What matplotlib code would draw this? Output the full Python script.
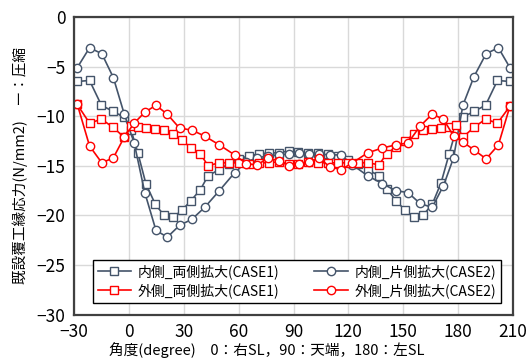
import matplotlib
matplotlib.use("Agg")
import matplotlib.pyplot as plt
from matplotlib import font_manager

# Angle positions of the evaluation points (degree): 0 = right SL, 90 = crown, 180 = left SL
angle_case1 = [-28.3, -21.5, -15.0, -8.8, -2.7, 1.2, 4.9, 9.3, 14.5, 19.3, 24.2, 28.9,
               34.0, 39.1, 43.3, 49.2, 54.5, 60.0, 65.5, 71.0, 76.5, 82.0, 87.3, 92.7,
               98.0, 103.5, 109.0, 114.5, 120.0, 125.5, 130.8, 136.7, 140.9, 146.0,
               151.1, 155.8, 160.7, 165.8, 170.7, 175.1, 178.8, 182.7, 188.8, 195.0,
               201.5, 208.3]
angle_case2 = [-28.2, -21.5, -14.8, -8.5, -2.5, 2.9, 8.7, 14.8, 21.0, 27.7, 34.4, 41.4,
               49.5, 57.8, 64.3, 70.3, 76.1, 81.9, 87.5, 92.8, 98.3, 104.0, 109.8, 116.0,
               122.2, 130.5, 138.6, 145.8, 152.6, 159.2, 165.8, 172.0, 177.5, 182.6,
               188.7, 195.3, 202.0, 208.3]

# Lining edge stress (N/mm2), negative = compression
inner_case1 = [-6.5, -6.4, -8.9, -9.5, -10.1, -11.4, -13.7, -16.8, -18.9, -20.0, -20.2, -19.5,
               -18.5, -17.4, -16.0, -15.4, -14.8, -14.3, -14.0, -13.8, -13.7, -13.7, -13.5, -13.6,
               -13.7, -13.7, -13.8, -14.0, -14.4, -14.8, -15.4, -16.0, -17.3, -18.5,
               -19.5, -20.2, -20.0, -18.9, -16.7, -13.8, -11.4, -10.1, -9.5, -8.9,
               -6.4, -6.5]
outer_case1 = [-8.8, -10.7, -10.3, -11.1, -12.1, -11.0, -11.1, -11.2, -11.3, -11.4, -11.8, -12.4,
               -13.2, -13.8, -15.0, -14.7, -14.7, -14.7, -14.8, -14.7, -14.7, -14.6, -14.8, -14.8,
               -14.6, -14.7, -14.7, -14.7, -14.7, -14.7, -14.7, -14.9, -13.8, -13.1,
               -12.5, -11.8, -11.4, -11.3, -11.2, -11.1, -10.9, -12.1, -11.1, -10.3,
               -10.7, -9.0]
inner_case2 = [-5.1, -3.1, -3.7, -6.1, -9.8, -12.7, -17.7, -21.5, -22.2, -21.0, -20.4, -19.2,
               -17.5, -15.7, -14.6, -14.2, -14.0, -13.9, -13.8, -13.7, -13.8, -13.8, -13.9, -13.9,
               -14.9, -16.0, -16.8, -17.5, -17.7, -18.8, -19.2, -17.0, -14.2, -8.9,
               -6.0, -3.7, -3.1, -5.1]
outer_case2 = [-8.8, -13.0, -14.7, -14.2, -12.1, -10.7, -9.6, -8.9, -9.8, -11.2, -11.4, -12.0,
               -12.9, -13.9, -14.8, -14.9, -14.2, -14.5, -15.0, -14.8, -14.6, -14.2, -15.1, -15.4,
               -14.7, -13.7, -13.2, -12.9, -12.7, -11.0, -9.8, -10.3, -12.0, -12.6,
               -13.4, -14.3, -12.9, -9.0]

labels = ["内側_両側拡大(CASE1)", "外側_両側拡大(CASE1)",
          "内側_片側拡大(CASE2)", "外側_片側拡大(CASE2)"]
x_ticks = [-30, 0, 30, 60, 90, 120, 150, 180, 210]
y_ticks = [0, -5, -10, -15, -20, -25, -30]

NAVY = "#44546A"
RED = "#FF0000"
JP = ["Noto Sans CJK JP", "DejaVu Sans"]

available = {f.name for f in font_manager.fontManager.ttflist}
TICK_FONT = "Liberation Sans Narrow" if "Liberation Sans Narrow" in available else "Noto Sans CJK JP"

plt.rcParams["font.family"] = JP
plt.rcParams["axes.unicode_minus"] = True

fig = plt.figure(figsize=(5.28, 3.60), dpi=100)
ax = fig.add_axes([74 / 528, 1 - 314.6 / 360, 439 / 528, 297.6 / 360])

common = dict(lw=1.2, markersize=6.0, markeredgewidth=1.0, markerfacecolor="white")
h_in1, = ax.plot(angle_case1, inner_case1, color=NAVY, marker="s", label=labels[0], **common)
h_in2, = ax.plot(angle_case2, inner_case2, color=NAVY, marker="o", label=labels[2], **common)
h_out1, = ax.plot(angle_case1, outer_case1, color=RED, marker="s", label=labels[1], **common)
h_out2, = ax.plot(angle_case2, outer_case2, color=RED, marker="o", label=labels[3], **common)

ax.set_xlim(-30, 210)
ax.set_ylim(-30, 0)
ax.set_xticks(x_ticks)
ax.set_yticks(y_ticks)
ax.set_xticklabels([f"{v}".replace("-", "\u2212") for v in x_ticks],
                   fontfamily=TICK_FONT, fontsize=12.5)
ax.set_yticklabels([f"{v}".replace("-", "\u2212") for v in y_ticks],
                   fontfamily=TICK_FONT, fontsize=12.5)
ax.tick_params(length=0, pad=6, colors="#000000")
ax.grid(True, color="#D9D9D9", lw=1.0)
ax.set_axisbelow(True)
for sp in ax.spines.values():
    sp.set_color("#404040")
    sp.set_linewidth(1.6)

ax.set_ylabel("既設覆工縁応力(N/mm2)　ー：圧縮", fontsize=10.5, labelpad=6)
fig.text(267 / 528, 1 - 350 / 360, "角度(degree)　0：右SL，90：天端，180：左SL",
         ha="center", va="center", fontsize=10.5)

leg = ax.legend(handles=[h_in1, h_out1, h_in2, h_out2], ncol=2, loc="lower left",
                bbox_to_anchor=(0.027, 0.015, 0.962, 0.17), mode="expand",
                fontsize=10, frameon=True, fancybox=False, edgecolor="#000000",
                framealpha=1.0, borderpad=0.35, labelspacing=0.3, handlelength=2.4,
                handletextpad=0.5)
leg.get_frame().set_linewidth(1.0)

fig.savefig("out.png", dpi=100)
